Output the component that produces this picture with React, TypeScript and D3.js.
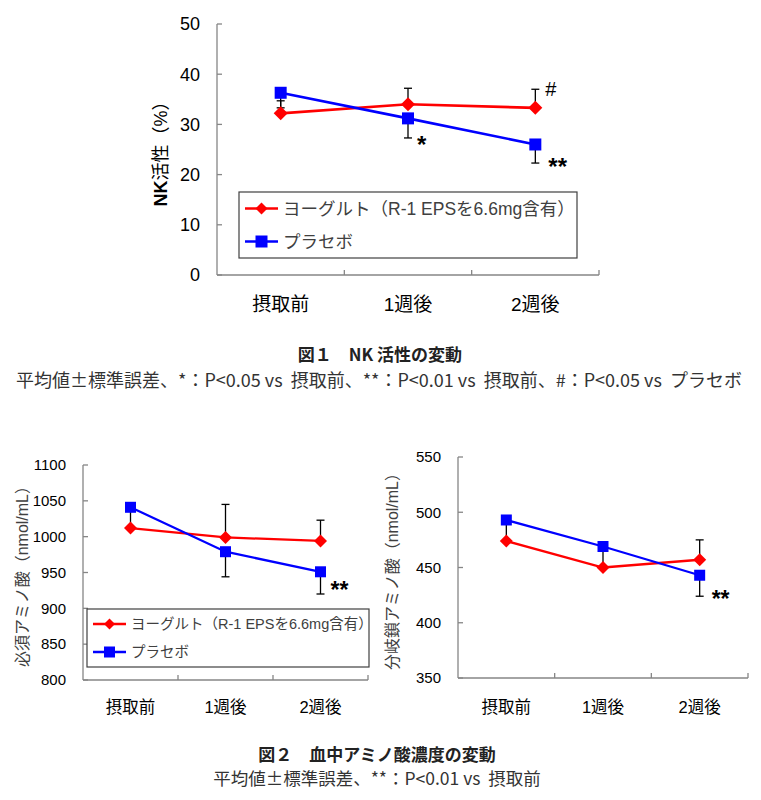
import React from "react";
import * as d3 from "d3";

const categories = ["摂取前", "1週後", "2週後"];

// Figure 1: NK activity (%)
const nkYogurt = [32.2, 34.0, 33.3];
const nkPlacebo = [36.3, 31.2, 26.0];
const nkYogurtErr = [2.5, 3.2, 3.7]; // upward
const nkPlaceboErr = [3.0, 3.9, 3.7]; // downward
const nkTicks = [0, 10, 20, 30, 40, 50];
const nkMarks = [
  { cat: 1, value: 27.3, text: "*", dx: 9, dy: 1, size: 24, weight: "bold" },
  { cat: 2, value: 22.3, text: "**", dx: 13, dy: -2, size: 24, weight: "bold" },
  { cat: 2, value: 37.0, text: "#", dx: 10, dy: 0, size: 20, weight: "normal" },
];

// Figure 2 left: essential amino acids
const eaaYogurt = [1012, 999, 994];
const eaaPlacebo = [1041, 979, 951];
const eaaYogurtErr = [0, 46, 29];
const eaaPlaceboErr = [29, 35, 31];
const eaaTicks = [800, 850, 900, 950, 1000, 1050, 1100];
const eaaMarks = [{ cat: 2, value: 920, text: "**", dx: 10, dy: -9, size: 23, weight: "bold" }];

// Figure 2 right: branched-chain amino acids
const bcaaYogurt = [474, 450, 457];
const bcaaPlacebo = [493, 469, 443];
const bcaaYogurtErr = [0, 0, 18];
const bcaaPlaceboErr = [19, 19, 19];
const bcaaTicks = [350, 400, 450, 500, 550];
const bcaaMarks = [{ cat: 2, value: 424, text: "**", dx: 12, dy: -3, size: 23, weight: "bold" }];

const legendLabels = ["ヨーグルト（R-1 EPSを6.6mg含有）", "プラセボ"];

const FONT = "'Liberation Sans', Arial, 'Noto Sans CJK JP', sans-serif";
const CJK = "'Noto Sans CJK JP', sans-serif";
const RED = "#ff0000";
const BLUE = "#0000ff";
const AXIS = "#868686";

type Mark = { cat: number; value: number; text: string; dx: number; dy: number; size: number; weight: string };

type ChartProps = {
  left: number;
  right: number;
  top: number;
  bottom: number;
  domain: [number, number];
  ticks: number[];
  yogurt: number[];
  placebo: number[];
  yErr: number[];
  pErr: number[];
  marks: Mark[];
  yTitle: React.ReactNode;
  yTitleX: number;
  yTitleColor: string;
  yTitleSize: number;
  tickSize: number;
  catSize: number;
  catY: number;
  legend?: { x: number; y: number; w: number; h: number; size: number; gap: number };
  markSize: number;
  lineWidth: number;
};

function Chart(p: ChartProps) {
  const x = d3.scaleBand<string>().domain(categories).range([p.left, p.right]);
  const y = d3.scaleLinear().domain(p.domain).range([p.bottom, p.top]);
  const cx = (i: number) => (x(categories[i]) as number) + x.bandwidth() / 2;
  const line = d3
    .line<number>()
    .x((_, i) => cx(i))
    .y((d) => y(d));
  const diamond = (s: number) => `M0,${-s}L${s},0L0,${s}L${-s},0Z`;
  const ms = p.markSize;
  const bounds = categories.map((c) => (x(c) as number) + x.bandwidth());
  return (
    <g fontFamily={FONT}>
      {/* axes */}
      <line x1={p.left} x2={p.left} y1={p.top} y2={p.bottom} stroke={AXIS} strokeWidth={1.3} />
      <line x1={p.left} x2={p.right} y1={p.bottom} y2={p.bottom} stroke={AXIS} strokeWidth={1.3} />
      {p.ticks.map((t) => (
        <g key={t}>
          <line x1={p.left} x2={p.left + 5} y1={y(t)} y2={y(t)} stroke={AXIS} strokeWidth={1.3} />
          <text x={p.left - 17} y={y(t)} dy="0.35em" textAnchor="end" fontSize={p.tickSize} fill="#000">
            {t}
          </text>
        </g>
      ))}
      {bounds.map((b, i) => (
        <line key={i} x1={b} x2={b} y1={p.bottom} y2={p.bottom - 5} stroke={AXIS} strokeWidth={1.3} />
      ))}
      {categories.map((c, i) => (
        <text key={c} x={cx(i)} y={p.catY} dy="0.36em" textAnchor="middle" fontSize={p.catSize} fill="#000">
          {c}
        </text>
      ))}
      <text
        transform={`translate(${p.yTitleX},${(p.top + p.bottom) / 2}) rotate(-90)`}
        textAnchor="middle"
        dy="0.36em"
        fontSize={p.yTitleSize}
        fill={p.yTitleColor}
      >
        {p.yTitle}
      </text>
      {/* error bars */}
      {p.yogurt.map((v, i) =>
        p.yErr[i] > 0 ? (
          <g key={"ye" + i} stroke="#000" strokeWidth={1.3}>
            <line x1={cx(i)} x2={cx(i)} y1={y(v)} y2={y(v + p.yErr[i])} />
            <line x1={cx(i) - 4} x2={cx(i) + 4} y1={y(v + p.yErr[i])} y2={y(v + p.yErr[i])} />
          </g>
        ) : null
      )}
      {p.placebo.map((v, i) =>
        p.pErr[i] > 0 ? (
          <g key={"pe" + i} stroke="#000" strokeWidth={1.3}>
            <line x1={cx(i)} x2={cx(i)} y1={y(v)} y2={y(v - p.pErr[i])} />
            <line x1={cx(i) - 4} x2={cx(i) + 4} y1={y(v - p.pErr[i])} y2={y(v - p.pErr[i])} />
          </g>
        ) : null
      )}
      {/* legend */}
      {p.legend && (
        <g>
          <rect x={p.legend.x} y={p.legend.y} width={p.legend.w} height={p.legend.h} fill="#fff" stroke="#404040" strokeWidth={1.2} />
          {legendLabels.map((lab, i) => {
            const ly = p.legend!.y + p.legend!.h / 2 + (i - 0.5) * p.legend!.gap;
            const lx = p.legend!.x + 6;
            return (
              <g key={lab}>
                <line x1={lx} x2={lx + 33} y1={ly} y2={ly} stroke={i === 0 ? RED : BLUE} strokeWidth={p.lineWidth} />
                {i === 0 ? (
                  <path d={diamond(ms)} transform={`translate(${lx + 16.5},${ly})`} fill={RED} />
                ) : (
                  <rect x={lx + 16.5 - ms} y={ly - ms} width={ms * 2} height={ms * 2} fill={BLUE} />
                )}
                <text x={lx + 38} y={ly} dy="0.36em" fontSize={p.legend!.size} fill="#404040">
                  {lab}
                </text>
              </g>
            );
          })}
        </g>
      )}
      {/* series */}
      <path d={line(p.yogurt) as string} fill="none" stroke={RED} strokeWidth={p.lineWidth} />
      <path d={line(p.placebo) as string} fill="none" stroke={BLUE} strokeWidth={p.lineWidth} />
      {p.yogurt.map((v, i) => (
        <path key={"yd" + i} d={diamond(ms + 1)} transform={`translate(${cx(i)},${y(v)})`} fill={RED} />
      ))}
      {p.placebo.map((v, i) => (
        <rect key={"ps" + i} x={cx(i) - ms} y={y(v) - ms} width={ms * 2} height={ms * 2} fill={BLUE} />
      ))}
      {p.marks.map((m, i) => {
        const k = m.text.startsWith("*") ? 0.58 : 0.35;
        return (
          <text
            key={"m" + i}
            x={cx(m.cat) + m.dx}
            y={y(m.value) + m.dy + k * m.size}
            fontSize={m.size}
            fontWeight={m.weight}
            fill="#000"
          >
            {m.text}
          </text>
        );
      })}
    </g>
  );
}

export default function App() {
  return (
    <svg width={745} height={792} style={{ display: "block" }} fontFamily={FONT}>
      <rect width={745} height={792} fill="#fff" />
      <g transform="translate(-8,-8)">
        <Chart
          left={217}
          right={599}
          top={24}
          bottom={275}
          domain={[0, 50]}
          ticks={nkTicks}
          yogurt={nkYogurt}
          placebo={nkPlacebo}
          yErr={nkYogurtErr}
          pErr={nkPlaceboErr}
          marks={nkMarks}
          yTitle={
            <>
              <tspan fontWeight="bold">NK</tspan>
              <tspan>活性（%）</tspan>
            </>
          }
          yTitleX={161}
          yTitleColor="#000"
          yTitleSize={18}
          tickSize={18}
          catSize={19}
          catY={304}
          legend={{ x: 239, y: 192, w: 338, h: 66, size: 17.5, gap: 33 }}
          markSize={6}
          lineWidth={2.6}
        />
        <text x={380} y={361} textAnchor="middle" fontSize={17} fontWeight="bold" fill="#222" fontFamily={CJK} style={{ whiteSpace: "pre" }}>
          図１　NK 活性の変動
        </text>
        <text x={379} y={387} textAnchor="middle" fontSize={18} fill="#333" fontFamily={CJK} style={{ whiteSpace: "pre" }}>
          {"平均値±標準誤差、*：P<0.05 vs  摂取前、**：P<0.01 vs  摂取前、#：P<0.05 vs  プラセボ"}
        </text>
        <Chart
          left={83}
          right={368}
          top={465}
          bottom={680}
          domain={[800, 1100]}
          ticks={eaaTicks}
          yogurt={eaaYogurt}
          placebo={eaaPlacebo}
          yErr={eaaYogurtErr}
          pErr={eaaPlaceboErr}
          marks={eaaMarks}
          yTitle="必須アミノ酸（nmol/mL）"
          yTitleX={22}
          yTitleColor="#404040"
          yTitleSize={16}
          tickSize={15}
          catSize={16.5}
          catY={707}
          legend={{ x: 87, y: 609, w: 282, h: 58, size: 14.5, gap: 28 }}
          markSize={5.5}
          lineWidth={2.3}
        />
        <Chart
          left={458}
          right={748}
          top={457}
          bottom={678}
          domain={[350, 550]}
          ticks={bcaaTicks}
          yogurt={bcaaYogurt}
          placebo={bcaaPlacebo}
          yErr={bcaaYogurtErr}
          pErr={bcaaPlaceboErr}
          marks={bcaaMarks}
          yTitle="分岐鎖アミノ酸（nmol/mL）"
          yTitleX={392}
          yTitleColor="#404040"
          yTitleSize={16}
          tickSize={15}
          catSize={16.5}
          catY={707}
          markSize={5.5}
          lineWidth={2.3}
        />
        <text x={377} y={761} textAnchor="middle" fontSize={17} fontWeight="bold" fill="#222" fontFamily={CJK} style={{ whiteSpace: "pre" }}>
          図２　血中アミノ酸濃度の変動
        </text>
        <text x={377} y={785} textAnchor="middle" fontSize={17.5} fill="#333" fontFamily={CJK} style={{ whiteSpace: "pre" }}>
          {"平均値±標準誤差、**：P<0.01 vs  摂取前"}
        </text>
      </g>
    </svg>
  );
}
